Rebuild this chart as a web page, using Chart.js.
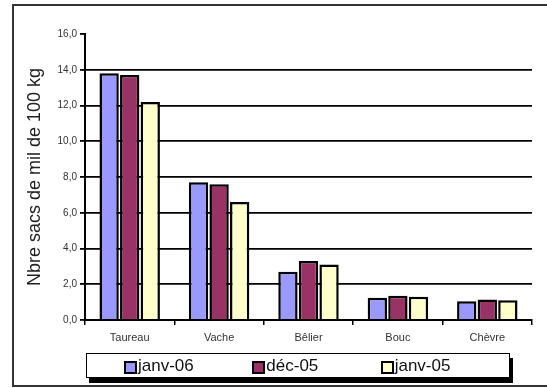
<!DOCTYPE html>
<html>
<head>
<meta charset="utf-8">
<script src="https://cdn.jsdelivr.net/npm/chart.js@4/dist/chart.umd.min.js"></script>
<style>
  html, body { margin: 0; padding: 0; background: #fff; }
  #wrap { position: relative; width: 547px; height: 388px; }
  #c { position: absolute; left: 0; top: 0; }
  #legend {
    position: absolute; left: 86px; top: 353px; width: 422px; height: 23px;
    border: 1.5px solid #000; background: #fff; box-shadow: 3px 5px 0 #000;
    display: flex; align-items: center; box-sizing: content-box;
    font-family: "Liberation Sans", Arial, sans-serif; font-size: 17px; color: #111;
  }
  #legend .item { width: 140px; display: flex; align-items: center; }
  #legend .item:first-child { margin-left: 37px; }
  #legend .sw { width: 9px; height: 9px; border: 2px solid #000; margin-right: 1px; margin-top: 3px; }
</style>
</head>
<body>
<div id="wrap">
  <canvas id="c" width="547" height="388"></canvas>
  <div id="legend"></div>
</div>
<script>
// Categories (animals) and the three survey dates
const categories = ['Taureau', 'Vache', 'Bêlier', 'Bouc', 'Chèvre'];
const seriesNames = ['janv-06', 'déc-05', 'janv-05'];

// Number of 100 kg millet sacks per animal
const valuesJanv06 = [13.8, 7.7, 2.7, 1.25, 1.05];
const valuesDec05  = [13.7, 7.6, 3.3, 1.35, 1.15];
const valuesJanv05 = [12.2, 6.6, 3.1, 1.3, 1.1];

const yTicks = [0, 2, 4, 6, 8, 10, 12, 14, 16];

const colors = ['#9999ff', '#993366', '#ffffcc'];
const allValues = [valuesJanv06, valuesDec05, valuesJanv05];

// Frame around the whole figure
const framePlugin = {
  id: 'frame',
  beforeDraw(chart) {
    const ctx = chart.ctx;
    ctx.save();
    ctx.fillStyle = '#fff';
    ctx.fillRect(0, 0, chart.width, chart.height);
    ctx.strokeStyle = '#333';
    ctx.lineWidth = 2;
    ctx.beginPath();
    ctx.moveTo(547, 5); ctx.lineTo(13, 5); ctx.lineTo(13, 386); ctx.lineTo(547, 386);
    ctx.stroke();
    ctx.restore();
  }
};

const chart = new Chart(document.getElementById('c'), {
  type: 'bar',
  data: {
    labels: categories,
    datasets: seriesNames.map((name, i) => ({
      label: name,
      data: allValues[i],
      backgroundColor: colors[i],
      borderColor: '#000',
      borderWidth: 2.5,
      categoryPercentage: 0.69,
      barPercentage: 0.94
    }))
  },
  options: {
    responsive: false,
    animation: false,
    layout: { padding: { left: 20, right: 15, top: 34, bottom: 38 } },
    plugins: { legend: { display: false }, tooltip: { enabled: false } },
    scales: {
      x: {
        afterFit(scale) { scale.height = 30; },
        grid: { drawOnChartArea: false, offset: true, tickLength: 5, color: '#000', lineWidth: 1.5 },
        border: { color: '#000', width: 2 },
        ticks: { color: '#333', font: { family: '"Liberation Sans", Arial, sans-serif', size: 11 }, padding: 6 }
      },
      y: {
        min: 0, max: 16,
        afterFit(scale) { scale.width = 65; },
        afterBuildTicks(scale) { scale.ticks = yTicks.map(v => ({ value: v })); },
        grid: {
          color: (c) => (c.tick && c.tick.value === 16) ? 'rgba(0,0,0,0)' : '#000',
          tickColor: '#000', lineWidth: 1.8, tickLength: 5
        },
        border: { color: '#000', width: 2 },
        ticks: {
          color: '#333', padding: 3,
          font: { family: '"Liberation Sans", Arial, sans-serif', size: 10 },
          callback: (v) => Number(v).toFixed(1).replace('.', ',')
        },
        title: {
          display: true, text: 'Nbre sacs de mil de 100 kg', color: '#222',
          font: { family: '"Liberation Sans", Arial, sans-serif', size: 18 }
        }
      }
    }
  },
  plugins: [framePlugin]
});

// Legend built from the dataset names and colours
const legend = document.getElementById('legend');
chart.data.datasets.forEach((ds) => {
  const item = document.createElement('div');
  item.className = 'item';
  const sw = document.createElement('span');
  sw.className = 'sw';
  sw.style.background = ds.backgroundColor;
  const txt = document.createElement('span');
  txt.textContent = ds.label;
  item.appendChild(sw);
  item.appendChild(txt);
  legend.appendChild(item);
});
</script>
</body>
</html>
